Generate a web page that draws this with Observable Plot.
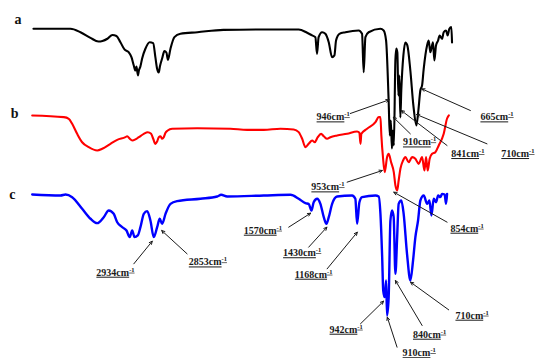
<!DOCTYPE html>
<html>
<head>
<meta charset="utf-8">
<script src="https://cdn.jsdelivr.net/npm/d3@7"></script>
<script src="https://cdn.jsdelivr.net/npm/@observablehq/plot@0.6"></script>
<style>
  html, body { margin: 0; padding: 0; background: #fff; }
  svg { display: block; }
</style>
</head>
<body>
<script>
// FTIR spectra, [wavenumber (cm-1), transmittance (a.u.)]
const spectrumA = [
  [4009,97.3],[3863,97.3],[3690,97.3],[3604,94.7],[3518,90.5],[3449,87.7],[3415,88.1],[3372,89.8],
  [3329,92.6],[3294,91.9],[3260,87.2],[3225,81.8],[3191,79.9],[3165,76.0],[3145,69.8],[3131,66.0],
  [3122,69.0],[3109,62.3],[3101,66.0],[3088,69.0],[3073,75.0],[3045,82.3],[3008,87.2],[2978,86.5],
  [2959,76.0],[2944,67.3],[2930,64.5],[2920,69.0],[2901,75.0],[2881,80.5],[2864,79.5],[2851,73.9],
  [2829,82.3],[2795,91.0],[2743,93.5],[2597,94.7],[2373,96.5],[2011,96.8],[1725,96.8],[1652,94.3],
  [1609,92.3],[1581,91.0],[1567,78.5],[1553,91.0],[1523,94.7],[1495,93.5],[1466,87.2],[1437,76.0],
  [1417,77.3],[1403,88.5],[1374,93.5],[1322,94.7],[1208,96.0],[1179,93.5],[1165,64.7],[1150,91.0],
  [1122,94.7],[1021,97.3],[993,96.0],[972,88.5],[950,43.5],[940,17.3],[931,28.5],[922,7.5],
  [914,21.0],[905,9.8],[892,73.5],[884,82.5],[875,79.5],[866,47.3],[858,62.3],[849,30.8],
  [841,51.0],[823,77.3],[806,87.0],[789,84.8],[763,66.0],[737,39.8],[711,24.8],[694,36.0],
  [677,51.0],[662,54.8],[648,67.3],[619,84.8],[605,88.5],[591,79.7],[568,87.2],[556,73.5],
  [542,84.8],[524,88.5],[511,92.3],[490,89.8],[476,94.7],[456,96.0],[442,92.3],[427,97.3],
  [410,98.5],[404,87.0]
];
const spectrumB = [
  [3968,97.25],[3696,96],[3653,94.8],[3624,91],[3581,83.5],[3538,77.2],[3481,73.5],[3408,71],
  [3365,72.3],[3294,76],[3236,79],[3165,81],[3150,81.7],[3128,79.8],[3107,78.5],[3079,79.3],
  [3050,81],[3007,83.5],[2973,84.7],[2944,83.5],[2926,79.8],[2907,76],[2892,77.8],[2878,81],
  [2863,81.7],[2849,79.8],[2835,81],[2820,84.3],[2801,86],[2763,87.3],[2547,87.7],[2261,87.3],
  [2117,86.5],[1974,86.5],[1830,87.3],[1716,86.8],[1673,84.8],[1643,79.8],[1615,73.5],[1587,76],
  [1557,78.5],[1535,77.2],[1509,81],[1480,83.5],[1457,81.7],[1428,79.8],[1400,81],[1342,82.3],
  [1256,83.5],[1170,85.3],[1150,84.3],[1141,76],[1133,83.5],[1084,87.3],[1012,92.2],[984,96],
  [969,96],[961,82.3],[946,64.8],[932,54.8],[912,66],[898,68.5],[877,62.2],[854,54.8],
  [840,44.8],[825,41],[812,48.5],[797,57.3],[774,63.5],[754,66],[726,62.2],[696,66],
  [668,64.8],[640,61],[610,66],[590,56],[576,66],[562,56],[545,64.8],[524,68.5],
  [496,69.7],[467,74.8],[424,83.5],[395,95],[380,97.3]
];
const spectrumC = [
  [3968,98],[3724,97.25],[3681,98],[3624,96],[3538,87.3],[3466,79.8],[3408,76.5],[3352,81],
  [3309,86],[3266,83.5],[3236,77.2],[3193,73.5],[3156,71],[3128,66],[3107,71],[3087,66],
  [3059,67.3],[3036,73.5],[3007,83.5],[2978,85.5],[2950,78.5],[2921,66],[2892,73.5],[2870,79.8],
  [2849,76],[2820,83.5],[2777,91],[2720,93],[2519,94.8],[2375,96.5],[2341,97.8],[2289,96.5],
  [1974,97.25],[1744,97.8],[1673,94.8],[1615,91.5],[1587,91],[1563,86],[1544,92.2],[1514,94.8],
  [1486,91],[1457,81],[1434,76],[1414,81],[1385,91],[1342,96.5],[1213,97.25],[1185,94.8],
  [1170,76],[1150,92.2],[1127,96],[1012,97.25],[984,96.5],[969,83.5],[954,51],[945,26],
  [932,21],[920,33.5],[912,7.25],[898,21],[883,78.5],[869,86],[855,81],[840,38.5],
  [825,66],[812,91],[789,93.5],[769,83.5],[740,53.5],[711,33.5],[688,48.5],[668,66],
  [645,78.5],[625,93.5],[596,97.25],[567,91],[547,93.5],[530,82.3],[510,94.8],[490,92.2],
  [472,97.25],[453,96],[438,98.5],[416,98],[404,91],[395,98.5]
];

// vertical offsets that stack the three spectra
const seriesNames = ["a", "b", "c"];
const seriesOffsets = [150, 85, 25];
const seriesColors = ["#000000", "#ff0000", "#0000ff"];
const letterX = [4090, 4120, 4138];
const letterY = [254.25, 184.1, 123];

// band assignments: label value, spectrum, label position, arrow tail, arrow tip height
const bandValues = [946, 910, 841, 710, 665, 953, 854, 2934, 2853, 1570, 1430, 1168, 942, 910, 840, 710];
const bandSeries = ["a","a","a","a","a","b","b","c","c","c","c","c","c","c","c","c"];
const bandLabelX = [1376, 632, 216, -215, -35, 1421, 223, 3251, 2455, 1981, 1643, 1544, 1264, 635, 546, 180];
const bandLabelY = [181, 162.2, 153.5, 153.5, 181, 128.5, 97.5, 64.5, 72.2, 96, 79.1, 63, 21.75, 4.1, 18, 32.25];
const bandTailX = [1280, 763, 447, 103, 246, 1256, 395, 3093, 2634, 1759, 1587, 1428, 1141, 826, 610, 381];
const bandTailY = [183.75, 168.5, 159.75, 161, 186, 132.25, 102.25, 71, 78.5, 98.5, 83.5, 67.25, 26, 8.5, 24.75, 36.5];
const bandTipY = [194, 181, 186, 183, 202.25, 141, 124.75, 88, 96, 109, 98.5, 94.75, 43, 31, 58.5, 57.25];

const spectra = [spectrumA, spectrumB, spectrumC];
const rows = spectra.flatMap((s, i) =>
  s.map(([w, t]) => ({series: seriesNames[i], w, v: t + seriesOffsets[i]})));
const bands = bandValues.map((b, i) => ({
  label: b, series: bandSeries[i],
  lx: bandLabelX[i], ly: bandLabelY[i],
  x1: bandTailX[i], y1: bandTailY[i], x2: b, y2: bandTipY[i]
}));
const letters = seriesNames.map((n, i) => ({n, x: letterX[i], y: letterY[i]}));

// spectrum a is drawn slightly shifted to the right in this figure
const shiftA = 6;

const lineMark = (name, i) => Plot.line(rows.filter(d => d.series === name), {
  x: "w", y: "v", stroke: seriesColors[i], strokeWidth: i === 2 ? 2.4 : 2.1,
  curve: "monotone-x", strokeLinejoin: "round", dx: name === "a" ? shiftA : 0
});

const arrowStyle = {x1: "x1", y1: "y1", x2: "x2", y2: "y2", stroke: "#1a1a1a", strokeWidth: 1, headLength: 5, headAngle: 50};

const svg = Plot.plot({
  width: 535,
  height: 358,
  marginLeft: 28,
  marginRight: 89,
  marginTop: 0,
  marginBottom: 0,
  x: {domain: [4000, 400], axis: null},
  y: {domain: [0, 268.5], axis: null},
  marks: [
    ...seriesNames.map(lineMark),
    Plot.arrow(bands.filter(d => d.series === "a"), {...arrowStyle, dx: shiftA}),
    Plot.arrow(bands.filter(d => d.series !== "a"), arrowStyle),
    Plot.text(bands, {
      x: "lx", y: "ly", text: d => `${d.label}cm`,
      fontFamily: "Liberation Serif", fontWeight: "bold", fontSize: 10, fill: "#1a1a1a"
    }),
    Plot.text(letters, {
      x: "x", y: "y", text: "n",
      fontFamily: "Liberation Serif", fontWeight: "bold", fontSize: 14, fill: "#111"
    })
  ]
});

// underline the band labels and add the superscript unit exponent
d3.select(svg).selectAll("text").each(function () {
  if (this.textContent.endsWith("cm")) {
    d3.select(this)
      .attr("text-decoration", "underline")
      .append("tspan")
      .attr("dy", "-4")
      .attr("font-size", 6.5)
      .text("-1");
  }
});

document.body.append(svg);
</script>
</body>
</html>
